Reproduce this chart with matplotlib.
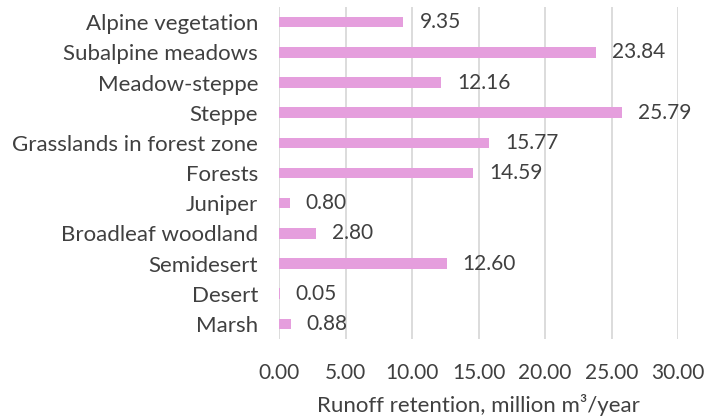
import matplotlib
matplotlib.use("Agg")
import matplotlib.pyplot as plt
from matplotlib.transforms import offset_copy

categories = ["Alpine vegetation", "Subalpine meadows", "Meadow-steppe", "Steppe",
              "Grasslands in forest zone", "Forests", "Juniper", "Broadleaf woodland",
              "Semidesert", "Desert", "Marsh"]
values = [9.35, 23.84, 12.16, 25.79, 15.77, 14.59, 0.80, 2.80, 12.60, 0.05, 0.88]
xticks = [0, 5, 10, 15, 20, 25, 30]

plt.rcParams['font.family'] = ['Lato', 'DejaVu Sans']
txt = '#404040'
fs = 16
fs_num = 15

fig = plt.figure(figsize=(7.08, 4.19), dpi=100)
ax = fig.add_axes([0.394, 0.191, 0.564, 0.792])
ypos = list(range(len(categories)))[::-1]
ax.barh(ypos, values, height=0.35, color='#E59EDD', zorder=3)
ax.set_ylim(-0.5, len(categories) - 0.5)
ax.set_xlim(0, 30)
ax.set_xticks(xticks)
ax.set_xticklabels([f"{t:.2f}" for t in xticks], color=txt, fontsize=fs_num)
ax.set_yticks(ypos)
ax.set_yticklabels(categories, color=txt, fontsize=fs)
ax.tick_params(axis='x', length=0, pad=17)
ax.tick_params(axis='y', length=0, pad=15)
for s in ax.spines.values():
    s.set_visible(False)
ax.grid(axis='x', color='#D9D9D9', linewidth=1.3, zorder=0)
ax.set_xlabel("Runoff retention, million m³/year", color=txt, fontsize=fs, labelpad=8)
tr = offset_copy(ax.transData, fig=fig, x=16 * 72 / 100, y=0, units='points')
for y, v in zip(ypos, values):
    ax.text(v, y, f"{v:.2f}", transform=tr, va='center', ha='left', color=txt, fontsize=fs_num)
fig.savefig("out.png", dpi=100)
